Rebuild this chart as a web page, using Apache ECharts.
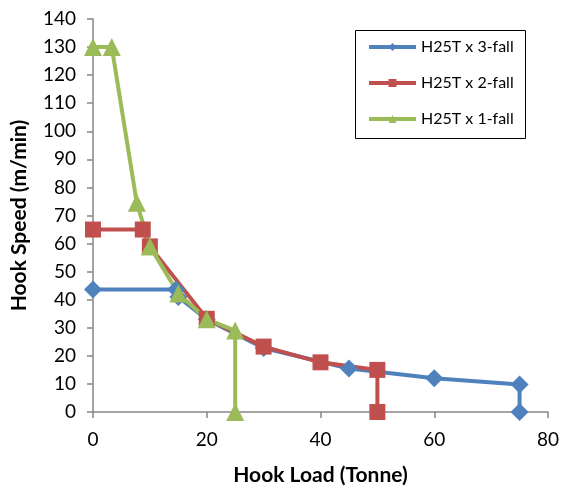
<!DOCTYPE html>
<html>
<head>
<meta charset="utf-8">
<script src="https://cdn.jsdelivr.net/npm/echarts@6/dist/echarts.min.js"></script>
<style>html,body{margin:0;padding:0;background:#fff;}#c{width:561px;height:488px;}</style>
</head>
<body>
<div id="c"></div>
<script>
const seriesNames = ['H25T x 3-fall', 'H25T x 2-fall', 'H25T x 1-fall'];
const fall3X = [0, 14.6, 15, 20, 30, 45, 60, 75, 75];
const fall3Y = [43.6, 43.6, 41, 33, 22.8, 15.5, 12, 9.8, 0];
const fall2X = [0, 8.75, 10, 20, 30, 40, 50, 50];
const fall2Y = [65, 65, 59, 33.2, 23.3, 17.7, 15, 0];
const fall1X = [0, 3.3, 7.7, 10, 15, 20, 25, 25];
const fall1Y = [130, 130, 74.5, 59, 42.2, 33, 29, 0];
const xTicks = [0, 20, 40, 60, 80];
const yTicks = [0, 10, 20, 30, 40, 50, 60, 70, 80, 90, 100, 110, 120, 130, 140];

const pair = (xs, ys) => xs.map((x, i) => [x, ys[i]]);
const FONT = 'Lato, "Open Sans", sans-serif';
const axisGray = '#868686';

const chart = echarts.init(document.getElementById('c'), null, {renderer: 'canvas'});
chart.setOption({
  animation: false,
  backgroundColor: '#fff',
  grid: {left: 93, right: 13, top: 19, bottom: 76, containLabel: false, outerBoundsMode: 'none'},
  xAxis: {
    type: 'value', min: xTicks[0], max: xTicks[xTicks.length - 1], interval: 20,
    name: 'Hook Load (Tonne)', nameLocation: 'middle', nameGap: 53,
    nameTextStyle: {fontFamily: FONT, fontSize: 21, fontWeight: 'bold', color: '#000'},
    axisLine: {show: true, onZero: false, lineStyle: {color: axisGray, width: 1.5}},
    axisTick: {show: true, inside: false, length: 6, lineStyle: {color: axisGray, width: 1.5}},
    axisLabel: {fontFamily: FONT, fontSize: 19, color: '#000', margin: 18},
    splitLine: {show: false}
  },
  yAxis: {
    type: 'value', min: yTicks[0], max: yTicks[yTicks.length - 1], interval: 10,
    name: 'Hook Speed (m/min)', nameLocation: 'middle', nameGap: 63, nameRotate: 90,
    nameTextStyle: {fontFamily: FONT, fontSize: 21, fontWeight: 'bold', color: '#000'},
    axisLine: {show: true, onZero: false, lineStyle: {color: axisGray, width: 1.5}},
    axisTick: {show: true, inside: false, length: 6, lineStyle: {color: axisGray, width: 1.5}},
    axisLabel: {fontFamily: FONT, fontSize: 19, color: '#000', margin: 17},
    splitLine: {show: false}
  },
  legend: {
    orient: 'vertical', left: 367, top: 39, padding: 0,
    itemWidth: 47, itemHeight: 10, itemGap: 20,
    lineStyle: {width: 4},
    textStyle: {fontFamily: FONT, fontSize: 16, color: '#000'},
    data: seriesNames
  },
  graphic: [{
    type: 'rect', left: 353, top: 28, silent: true,
    shape: {width: 170, height: 108},
    style: {fill: 'none', stroke: '#000', lineWidth: 1}
  }],
  series: [
    {name: seriesNames[0], type: 'line', data: pair(fall3X, fall3Y), symbol: 'diamond', symbolSize: 18,
     lineStyle: {color: '#4F81BD', width: 4}, itemStyle: {color: '#4F81BD'}, color: '#4F81BD'},
    {name: seriesNames[1], type: 'line', data: pair(fall2X, fall2Y), symbol: 'rect', symbolSize: 16,
     lineStyle: {color: '#C0504D', width: 4}, itemStyle: {color: '#C0504D'}, color: '#C0504D'},
    {name: seriesNames[2], type: 'line', data: pair(fall1X, fall1Y), symbol: 'triangle', symbolSize: 18,
     lineStyle: {color: '#9BBB59', width: 4}, itemStyle: {color: '#9BBB59'}, color: '#9BBB59'}
  ]
});
</script>
</body>
</html>
